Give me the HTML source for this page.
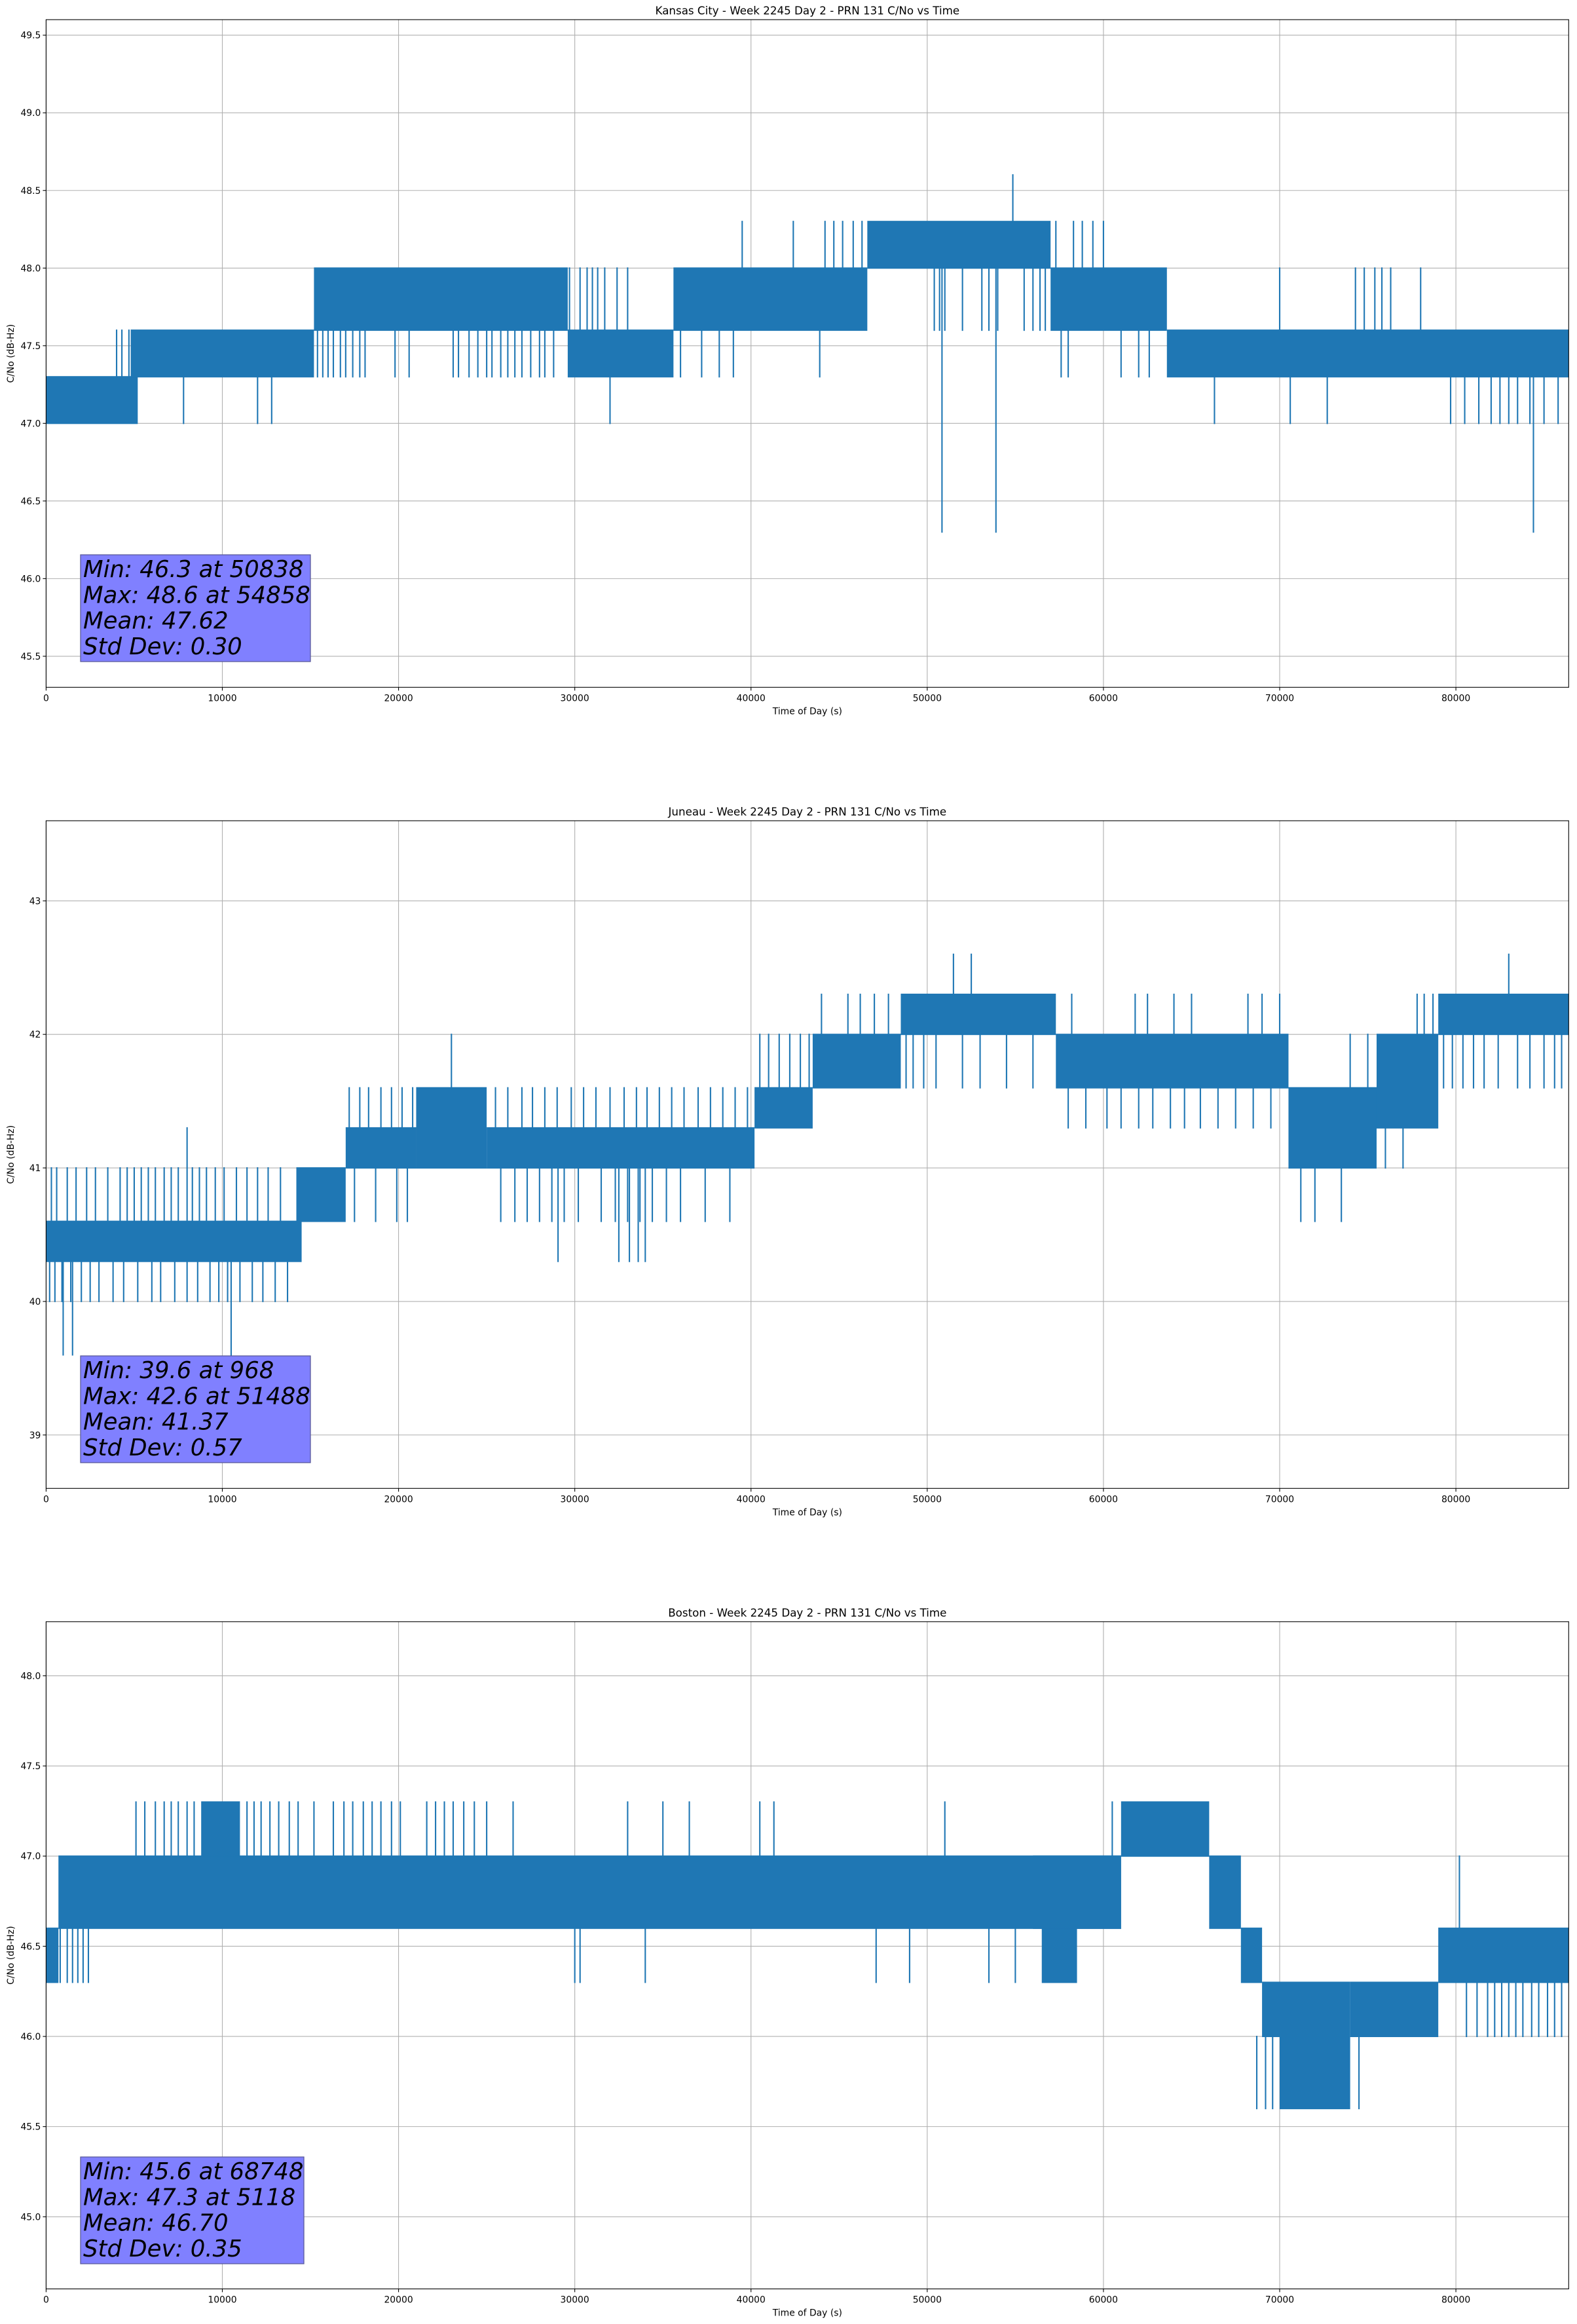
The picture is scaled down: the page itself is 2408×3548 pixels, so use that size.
<!DOCTYPE html>
<html><head><meta charset="utf-8"><style>
html,body{margin:0;padding:0;background:#fff;}
svg{display:block;font-family:"DejaVu Sans","Liberation Sans",sans-serif;}
</style></head><body>
<svg id="fig" width="2408" height="3548" viewBox="0 0 2408 3548" xmlns="http://www.w3.org/2000/svg"></svg>
<script>
// ---------- data: Kansas City ----------
const kcBandStart=[0,4800,15200,29600,35600,46600,57000,63600];
const kcBandEnd=[5200,15200,29600,35600,46600,57000,63600,86400];
const kcBandLow=[47.0,47.3,47.6,47.3,47.6,48.0,47.6,47.3];
const kcBandHigh=[47.3,47.6,48.0,47.6,48.0,48.3,48.0,47.6];
const kcSpikeT=[4000,4300,4700,7800,12000,12800,15400,15700,16000,16300,16700,17000,17400,17800,18100,19800,20600,23100,23400,24000,24500,25000,25300,25800,26200,26600,27000,27500,28000,28300,28800,29700,30300,30700,31000,31300,31700,32400,33000,32000,39500,42400,44200,44700,45200,45800,46300,36000,37200,38200,39000,43900,50400,50700,51000,52000,53100,53500,54000,55500,56000,56400,56700,50838,53900,54858,57300,58300,58800,59400,60000,57600,58000,61000,62000,62600,66300,70600,72700,79700,80500,81300,82000,82500,83000,83500,84200,85000,85800,84400,70000,74300,74800,75400,75800,76300,78000];
const kcSpikeLow=[47.3,47.3,47.3,47.0,47.0,47.0,47.3,47.3,47.3,47.3,47.3,47.3,47.3,47.3,47.3,47.3,47.3,47.3,47.3,47.3,47.3,47.3,47.3,47.3,47.3,47.3,47.3,47.3,47.3,47.3,47.3,47.6,47.6,47.6,47.6,47.6,47.6,47.6,47.6,47.0,48.0,48.0,48.0,48.0,48.0,48.0,48.0,47.3,47.3,47.3,47.3,47.3,47.6,47.6,47.6,47.6,47.6,47.6,47.6,47.6,47.6,47.6,47.6,46.3,46.3,48.3,48.0,48.0,48.0,48.0,48.0,47.3,47.3,47.3,47.3,47.3,47.0,47.0,47.0,47.0,47.0,47.0,47.0,47.0,47.0,47.0,47.0,47.0,47.0,46.3,47.6,47.6,47.6,47.6,47.6,47.6,47.6];
const kcSpikeHigh=[47.6,47.6,47.6,47.3,47.3,47.3,47.6,47.6,47.6,47.6,47.6,47.6,47.6,47.6,47.6,47.6,47.6,47.6,47.6,47.6,47.6,47.6,47.6,47.6,47.6,47.6,47.6,47.6,47.6,47.6,47.6,48.0,48.0,48.0,48.0,48.0,48.0,48.0,48.0,47.3,48.3,48.3,48.3,48.3,48.3,48.3,48.3,47.6,47.6,47.6,47.6,47.6,48.0,48.0,48.0,48.0,48.0,48.0,48.0,48.0,48.0,48.0,48.0,48.0,48.0,48.6,48.3,48.3,48.3,48.3,48.3,47.6,47.6,47.6,47.6,47.6,47.3,47.3,47.3,47.3,47.3,47.3,47.3,47.3,47.3,47.3,47.3,47.3,47.3,47.3,48.0,48.0,48.0,48.0,48.0,48.0,48.0];
const kcYTicks=[45.5,46.0,46.5,47.0,47.5,48.0,48.5,49.0,49.5];
const kcYTickLabels=["45.5","46.0","46.5","47.0","47.5","48.0","48.5","49.0","49.5"];
const kcStats=["Min: 46.3 at 50838","Max: 48.6 at 54858","Mean: 47.62","Std Dev: 0.30"];

// ---------- data: Juneau ----------
const jnBandStart=[0,14200,17000,21000,25000,40200,43500,48500,57300,70500,75500,79000];
const jnBandEnd=[14500,17000,21000,25000,40200,43500,48500,57300,70500,75500,79000,86400];
const jnBandLow=[40.3,40.6,41.0,41.0,41.0,41.3,41.6,42.0,41.6,41.0,41.3,42.0];
const jnBandHigh=[40.6,41.0,41.3,41.6,41.3,41.6,42.0,42.3,42.0,41.6,42.0,42.3];
const jnSpikeT=[300,600,1200,1700,2300,2800,3500,4200,4600,5000,5400,5800,6200,6700,7100,7500,8300,8700,9100,9600,10100,10800,11400,12000,12600,13300,
200,500,900,1400,2000,2500,3000,3800,4400,5200,6000,6500,7300,8000,8600,9300,9800,10300,11000,11700,12300,13000,13700,
968,1500,10500,8000,
17200,17800,18300,19000,19600,20200,20800,17500,18700,19900,20500,23000,
25500,26200,27000,27600,28300,29000,29800,30500,31200,32000,32800,33500,34100,34800,35500,36200,37000,37700,38400,39100,39800,
25800,26600,27300,28000,28700,29400,30200,31500,32300,33000,33700,34400,35200,36000,37400,38800,29050,32500,33100,33600,34000,
40500,41000,41600,42200,42800,43300,44000,45500,46200,47000,47800,
48800,49200,49800,50500,52000,53000,54500,56000,51488,52500,
58000,59000,60200,61000,62000,62800,63800,64600,65500,66500,67500,68500,69500,58200,61800,62500,64000,65000,68200,69000,70000,
71200,72000,73500,74000,75000,77800,78200,78700,76000,77000,
79300,79800,80400,81000,81600,82400,83500,84200,85000,85600,86000,83000];
const jnSpikeLow=[40.6,40.6,40.6,40.6,40.6,40.6,40.6,40.6,40.6,40.6,40.6,40.6,40.6,40.6,40.6,40.6,40.6,40.6,40.6,40.6,40.6,40.6,40.6,40.6,40.6,40.6,
40.0,40.0,40.0,40.0,40.0,40.0,40.0,40.0,40.0,40.0,40.0,40.0,40.0,40.0,40.0,40.0,40.0,40.0,40.0,40.0,40.0,40.0,40.0,
39.6,39.6,39.6,40.6,
41.3,41.3,41.3,41.3,41.3,41.3,41.3,40.6,40.6,40.6,40.6,41.6,
41.3,41.3,41.3,41.3,41.3,41.3,41.3,41.3,41.3,41.3,41.3,41.3,41.3,41.3,41.3,41.3,41.3,41.3,41.3,41.3,41.3,
40.6,40.6,40.6,40.6,40.6,40.6,40.6,40.6,40.6,40.6,40.6,40.6,40.6,40.6,40.6,40.6,40.3,40.3,40.3,40.3,40.3,
41.6,41.6,41.6,41.6,41.6,41.6,42.0,42.0,42.0,42.0,42.0,
41.6,41.6,41.6,41.6,41.6,41.6,41.6,41.6,42.3,42.3,
41.3,41.3,41.3,41.3,41.3,41.3,41.3,41.3,41.3,41.3,41.3,41.3,41.3,42.0,42.0,42.0,42.0,42.0,42.0,42.0,42.0,
40.6,40.6,40.6,41.6,41.6,42.0,42.0,42.0,41.0,41.0,
41.6,41.6,41.6,41.6,41.6,41.6,41.6,41.6,41.6,41.6,41.6,42.3];
const jnSpikeHigh=[41.0,41.0,41.0,41.0,41.0,41.0,41.0,41.0,41.0,41.0,41.0,41.0,41.0,41.0,41.0,41.0,41.0,41.0,41.0,41.0,41.0,41.0,41.0,41.0,41.0,41.0,
40.3,40.3,40.3,40.3,40.3,40.3,40.3,40.3,40.3,40.3,40.3,40.3,40.3,40.3,40.3,40.3,40.3,40.3,40.3,40.3,40.3,40.3,40.3,
40.3,40.3,40.3,41.3,
41.6,41.6,41.6,41.6,41.6,41.6,41.6,41.0,41.0,41.0,41.0,42.0,
41.6,41.6,41.6,41.6,41.6,41.6,41.6,41.6,41.6,41.6,41.6,41.6,41.6,41.6,41.6,41.6,41.6,41.6,41.6,41.6,41.6,
41.0,41.0,41.0,41.0,41.0,41.0,41.0,41.0,41.0,41.0,41.0,41.0,41.0,41.0,41.0,41.0,41.0,41.0,41.0,41.0,41.0,
42.0,42.0,42.0,42.0,42.0,42.0,42.3,42.3,42.3,42.3,42.3,
42.0,42.0,42.0,42.0,42.0,42.0,42.0,42.0,42.6,42.6,
41.6,41.6,41.6,41.6,41.6,41.6,41.6,41.6,41.6,41.6,41.6,41.6,41.6,42.3,42.3,42.3,42.3,42.3,42.3,42.3,42.3,
41.0,41.0,41.0,42.0,42.0,42.3,42.3,42.3,41.3,41.3,
42.0,42.0,42.0,42.0,42.0,42.0,42.0,42.0,42.0,42.0,42.0,42.6];
const jnYTicks=[39,40,41,42,43];
const jnYTickLabels=["39","40","41","42","43"];
const jnStats=["Min: 39.6 at 968","Max: 42.6 at 51488","Mean: 41.37","Std Dev: 0.57"];

// ---------- data: Boston ----------
const bsBandStart=[0,700,8800,56500,56000,61000,66000,67800,69000,70000,74000,79000];
const bsBandEnd=[700,61000,11000,58500,61000,66000,67800,69000,70000,74000,79000,86400];
const bsBandLow=[46.3,46.6,47.0,46.3,46.6,47.0,46.6,46.3,46.0,45.6,46.0,46.3];
const bsBandHigh=[46.6,47.0,47.3,46.6,47.0,47.3,47.0,46.6,46.3,46.3,46.3,46.6];
const bsSpikeT=[800,1200,1500,1800,2100,2400,
5100,5600,6200,6700,7100,7500,8000,8400,11400,11800,12200,12700,13200,13800,14300,15200,16300,16900,17400,18000,18500,19000,19600,20100,21600,22100,22600,23100,23700,24300,25000,26500,33000,35000,36500,40500,41300,51000,60500,
30000,30300,34000,47100,49000,53500,55000,
80600,81200,81800,82200,82600,83000,83400,83800,84300,84700,85200,85600,86000,80200,68700,69200,69600,74500];
const bsSpikeLow=[46.3,46.3,46.3,46.3,46.3,46.3,
47.0,47.0,47.0,47.0,47.0,47.0,47.0,47.0,47.0,47.0,47.0,47.0,47.0,47.0,47.0,47.0,47.0,47.0,47.0,47.0,47.0,47.0,47.0,47.0,47.0,47.0,47.0,47.0,47.0,47.0,47.0,47.0,47.0,47.0,47.0,47.0,47.0,47.0,47.0,
46.3,46.3,46.3,46.3,46.3,46.3,46.3,
46.0,46.0,46.0,46.0,46.0,46.0,46.0,46.0,46.0,46.0,46.0,46.0,46.0,46.6,45.6,45.6,45.6,45.6];
const bsSpikeHigh=[46.6,46.6,46.6,46.6,46.6,46.6,
47.3,47.3,47.3,47.3,47.3,47.3,47.3,47.3,47.3,47.3,47.3,47.3,47.3,47.3,47.3,47.3,47.3,47.3,47.3,47.3,47.3,47.3,47.3,47.3,47.3,47.3,47.3,47.3,47.3,47.3,47.3,47.3,47.3,47.3,47.3,47.3,47.3,47.3,47.3,
46.6,46.6,46.6,46.6,46.6,46.6,46.6,
46.3,46.3,46.3,46.3,46.3,46.3,46.3,46.3,46.3,46.3,46.3,46.3,46.3,47.0,46.0,46.0,46.0,46.0];
const bsYTicks=[45.0,45.5,46.0,46.5,47.0,47.5,48.0];
const bsYTickLabels=["45.0","45.5","46.0","46.5","47.0","47.5","48.0"];
const bsStats=["Min: 45.6 at 68748","Max: 47.3 at 5118","Mean: 46.70","Std Dev: 0.35"];

const xTicks=[0,10000,20000,30000,40000,50000,60000,70000,80000];
const xTickLabels=["0","10000","20000","30000","40000","50000","60000","70000","80000"];

// ---------- rendering ----------
const NS="http://www.w3.org/2000/svg";
const fig=document.getElementById('fig');
function mk(tag,attrs,parent){const e=document.createElementNS(NS,tag);for(const k in attrs)e.setAttribute(k,attrs[k]);parent.appendChild(e);return e;}
const L=70.4,R=2395.3,XMAX=86400;
function xs(v){return L+(v/XMAX)*(R-L);}

function drawChart(key,title,top,bottom,yMin,yMax,yTicks,yLabels,bS,bE,bL,bH,sT,sL,sH,stats,boxTop,boxRight){
  const ys=v=>bottom-(v-yMin)/(yMax-yMin)*(bottom-top);
  const g=mk('g',{},fig);
  
  
  const t=mk('text',{x:(L+R)/2,y:top-8,'text-anchor':'middle','font-size':'16.7'},g);
  t.textContent=title;
  
  
  const grid=mk('g',{stroke:'#b0b0b0','stroke-width':'1.1'},g);
  
  
  xTicks.forEach(v=>mk('line',{x1:xs(v),x2:xs(v),y1:top,y2:bottom},grid));
  yTicks.forEach(v=>mk('line',{x1:L,x2:R,y1:ys(v),y2:ys(v)},grid));
  const ser=mk('g',{fill:'#1f77b4',stroke:'#1f77b4'},g);
  
  
  for(let i=0;i<bS.length;i++){
    const r=mk('rect',{x:xs(bS[i]),y:ys(bH[i])-1,width:Math.max(1,xs(bE[i])-xs(bS[i])),height:ys(bL[i])-ys(bH[i])+2,stroke:'none'},ser);
    
    
  }
  for(let i=0;i<sT.length;i++){
    const l=mk('line',{x1:xs(sT[i]),x2:xs(sT[i]),y1:ys(sH[i])-1,y2:ys(sL[i])+1,'stroke-width':'2.1'},ser);
    
    
  }
  const fr=mk('rect',{x:L,y:top,width:R-L,height:bottom-top,fill:'none',stroke:'#000','stroke-width':'1.1'},g);
  
  
  const xa=mk('g',{'font-size':'13.9','text-anchor':'middle'},g);
  
  
  xTicks.forEach((v,i)=>{
    mk('line',{x1:xs(v),x2:xs(v),y1:bottom,y2:bottom+5,stroke:'#000','stroke-width':'1.1'},xa);
    const tx=mk('text',{x:xs(v),y:bottom+21},xa);tx.textContent=xTickLabels[i];
  });
  const xl=mk('text',{x:(L+R)/2,y:bottom+41,'font-size':'13.9','text-anchor':'middle'},g);
  xl.textContent='Time of Day (s)';
  
  
  const ya=mk('g',{'font-size':'13.9','text-anchor':'end'},g);
  
  
  yTicks.forEach((v,i)=>{
    mk('line',{x1:L-5,x2:L,y1:ys(v),y2:ys(v),stroke:'#000','stroke-width':'1.1'},ya);
    const ty=mk('text',{x:L-8,y:ys(v)+5},ya);ty.textContent=yLabels[i];
  });
  const yl=mk('text',{x:0,y:0,'font-size':'13.9','text-anchor':'middle',transform:`translate(21,${(top+bottom)/2}) rotate(-90)`},g);
  yl.textContent='C/No (dB-Hz)';
  
  
  const sb=mk('g',{},g);
  
  
  mk('rect',{x:123,y:boxTop,width:boxRight-123,height:163,fill:'#8080ff',stroke:'#5a5a9a','stroke-width':'1.3'},sb);
  stats.forEach((s,i)=>{
    const st=mk('text',{x:127,y:boxTop+34+i*39.3,'font-size':'35.5','font-style':'italic',fill:'#000'},sb);
    st.textContent=s;
  });
}
drawChart('kansas-city','Kansas City - Week 2245 Day 2 - PRN 131 C/No vs Time',30,1049.3,45.3,49.6,kcYTicks,kcYTickLabels,kcBandStart,kcBandEnd,kcBandLow,kcBandHigh,kcSpikeT,kcSpikeLow,kcSpikeHigh,kcStats,847,474);
drawChart('juneau','Juneau - Week 2245 Day 2 - PRN 131 C/No vs Time',1253,2272.3,38.6,43.6,jnYTicks,jnYTickLabels,jnBandStart,jnBandEnd,jnBandLow,jnBandHigh,jnSpikeT,jnSpikeLow,jnSpikeHigh,jnStats,2070,474);
drawChart('boston','Boston - Week 2245 Day 2 - PRN 131 C/No vs Time',2475.8,3494.4,44.6,48.3,bsYTicks,bsYTickLabels,bsBandStart,bsBandEnd,bsBandLow,bsBandHigh,bsSpikeT,bsSpikeLow,bsSpikeHigh,bsStats,3293,464);
</script>
</body></html>
